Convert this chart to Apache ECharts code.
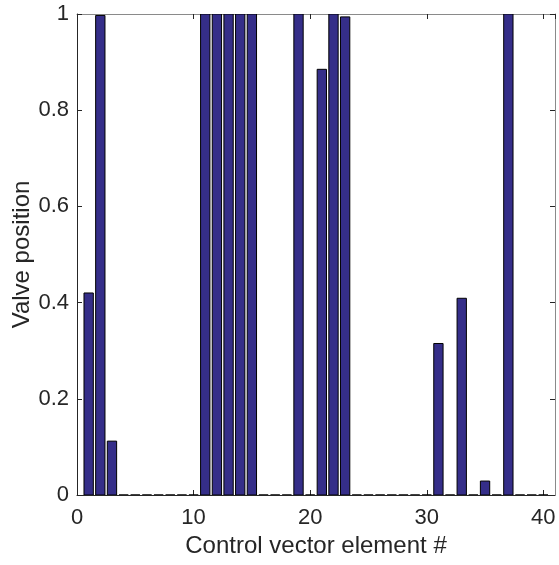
<!DOCTYPE html>
<html>
<head>
<meta charset="utf-8">
<script src="https://cdn.jsdelivr.net/npm/echarts@6/dist/echarts.min.js"></script>
<style>
  html, body { margin: 0; padding: 0; background: #fff; }
  #chart { width: 559px; height: 565px; }
</style>
</head>
<body>
<div id="chart"></div>
<script>
// Control vector elements (1..40) and their valve positions
const elements = [1,2,3,4,5,6,7,8,9,10,11,12,13,14,15,16,17,18,19,20,21,22,23,24,25,26,27,28,29,30,31,32,33,34,35,36,37,38,39,40];
const valvePositions = [
  0.42, 0.997, 0.112, 0, 0, 0, 0, 0, 0, 0,
  1, 1, 1, 1, 1, 0, 0, 0, 1, 0,
  0.885, 1, 0.994, 0, 0, 0, 0, 0, 0, 0,
  0.315, 0, 0.409, 0, 0.029, 0, 1, 0, 0, 0
];
const xTicks = [0, 10, 20, 30, 40];
const yTicks = [0, 0.2, 0.4, 0.6, 0.8, 1];

const xLabel = 'Control vector element #';
const yLabel = 'Valve position';

const barColor = '#352e89';
const axisColor = '#262626';
const frameColor = '#8a8a8a';
const font = '"Liberation Sans", Arial, Helvetica, sans-serif';
const barFraction = 0.8;

const chart = echarts.init(document.getElementById('chart'), null, { renderer: 'canvas' });

const points = elements.map((e, i) => [e, valvePositions[i]]);

const baseX = {
  type: 'value', min: 0, max: 41, interval: 10,
  splitLine: { show: false }
};
const baseY = {
  type: 'value', min: 0, max: 1, interval: 0.2,
  splitLine: { show: false }
};

chart.setOption({
  animation: false,
  backgroundColor: '#ffffff',
  grid: { left: 77, right: 4, top: 14, bottom: 70, containLabel: false, outerBoundsMode: 'none' },
  xAxis: [
    Object.assign({}, baseX, {
      position: 'bottom',
      name: xLabel, nameLocation: 'middle', nameGap: 39, nameMoveOverlap: false,
      nameTextStyle: { fontFamily: font, fontSize: 24, color: axisColor },
      axisLine: { show: true, onZero: false, lineStyle: { color: axisColor, width: 1 } },
      axisTick: { show: true, inside: true, length: 5, lineStyle: { color: axisColor } },
      axisLabel: {
        show: true, margin: 12, fontFamily: font, fontSize: 22, color: axisColor,
        showMaxLabel: false,
        formatter: v => (xTicks.indexOf(v) >= 0 ? String(v) : '')
      }
    }),
    Object.assign({}, baseX, {
      position: 'top',
      axisLine: { show: true, onZero: false, lineStyle: { color: frameColor, width: 1 } },
      axisTick: { show: true, inside: true, length: 5, lineStyle: { color: axisColor } },
      axisLabel: { show: false }
    })
  ],
  yAxis: [
    Object.assign({}, baseY, {
      position: 'left',
      name: yLabel, nameLocation: 'middle', nameGap: 43, nameRotate: 90, nameMoveOverlap: false,
      nameTextStyle: { fontFamily: font, fontSize: 24, color: axisColor },
      axisLine: { show: true, onZero: false, lineStyle: { color: axisColor, width: 1 } },
      axisTick: { show: true, inside: true, length: 5, lineStyle: { color: axisColor } },
      axisLabel: {
        show: true, margin: 8, fontFamily: font, fontSize: 22, color: axisColor,
        formatter: v => {
          const t = yTicks.find(y => Math.abs(y - v) < 1e-9);
          return t === undefined ? '' : String(+t.toFixed(1));
        }
      }
    }),
    Object.assign({}, baseY, {
      position: 'right',
      axisLine: { show: true, onZero: false, lineStyle: { color: frameColor, width: 1 } },
      axisTick: { show: true, inside: true, length: 5, lineStyle: { color: axisColor } },
      axisLabel: { show: false }
    })
  ],
  series: [{
    type: 'custom',
    xAxisIndex: 0,
    yAxisIndex: 0,
    data: points,
    clip: true,
    renderItem: function (params, api) {
      const x = api.value(0);
      const y = api.value(1);
      const topLeft = api.coord([x - barFraction / 2, y]);
      const bottomRight = api.coord([x + barFraction / 2, 0]);
      return {
        type: 'rect',
        shape: {
          x: topLeft[0],
          y: topLeft[1],
          width: bottomRight[0] - topLeft[0],
          height: bottomRight[1] - topLeft[1]
        },
        style: { fill: barColor, stroke: '#000000', lineWidth: 1 }
      };
    }
  }]
});
</script>
</body>
</html>
